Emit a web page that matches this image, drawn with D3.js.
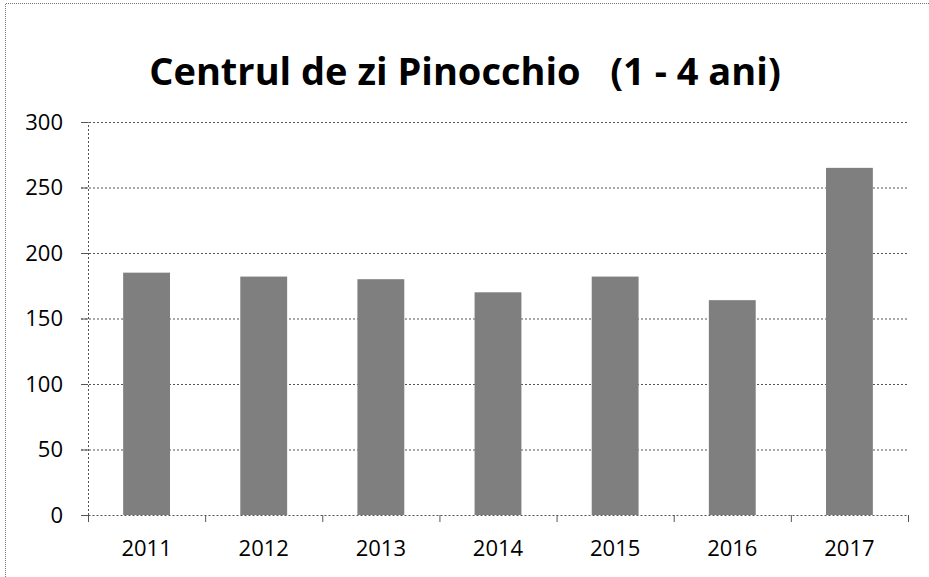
<!DOCTYPE html>
<html>
<head>
<meta charset="utf-8">
<script src="https://cdn.jsdelivr.net/npm/d3@7"></script>
<style>
  html, body { margin: 0; padding: 0; background: #fff; }
</style>
</head>
<body>
<div id="chart"></div>
<script>
const years = ['2011', '2012', '2013', '2014', '2015', '2016', '2017']
const children = [185, 182, 180, 170, 182, 164, 265]
const yTicks = [0, 50, 100, 150, 200, 250, 300]
const title = 'Centrul de zi Pinocchio   (1 - 4 ani)'

const width = 929,
  height = 577,
  margin = { top: 122, right: 21, bottom: 62, left: 88 }

const
  xMax = width - margin.left - margin.right,
  yMax = height - margin.top - margin.bottom,

  scaleX = d3.scaleBand().domain(years).range([0, xMax]).paddingInner(0.6).paddingOuter(0.3),
  scaleY = d3.scaleLinear().domain([0, 300]).range([yMax, 0]),

  svg = d3.select('#chart').append('svg')
    .attr('width', width)
    .attr('height', height)
    .attr('viewBox', [0, 0, width, height])

// frame (only top and left edges show in the scan)
svg.append('path')
  .attr('d', `M5.5,${height} V3.5 H${width}`)
  .attr('fill', 'none')
  .attr('stroke', '#777')
  .attr('stroke-dasharray', '1,1')

svg.append('text')
  .attr('x', 465)
  .attr('y', 85)
  .attr('text-anchor', 'middle')
  .style('white-space', 'pre')
  .attr('font-family', '"Open Sans", sans-serif')
  .attr('font-weight', 'bold')
  .attr('font-size', 38)
  .attr('fill', '#000')
  .text(title)

const chart = svg.append('g')
  .attr('transform', `translate(${margin.left}, ${margin.top})`)

// gridlines
chart.append('g')
  .selectAll('line')
  .data(yTicks.slice(1)).enter().append('line')
  .attr('x1', -7)
  .attr('x2', xMax)
  .attr('y1', d => scaleY(d) + 0.5)
  .attr('y2', d => scaleY(d) + 0.5)
  .attr('stroke', '#555')
  .attr('stroke-dasharray', '2,2')

// bars
chart.append('g')
  .selectAll('rect')
  .data(years).enter().append('rect')
  .attr('x', d => scaleX(d))
  .attr('y', (d, i) => scaleY(children[i]))
  .attr('width', scaleX.bandwidth())
  .attr('height', (d, i) => yMax - scaleY(children[i]))
  .attr('fill', '#7f7f7f')

// y axis
const yAxis = chart.append('g')
  .call(d3.axisLeft(scaleY).tickValues(yTicks).tickSize(7).tickPadding(18))
yAxis.select('.domain').attr('stroke', '#555').attr('stroke-dasharray', '2,2')
yAxis.selectAll('.tick line').attr('stroke', '#555')
yAxis.selectAll('text')
  .attr('font-family', '"Open Sans", sans-serif')
  .attr('font-size', 22)
  .attr('fill', '#000')

// x axis
const step = scaleX.step()
const xAxis = chart.append('g')
  .attr('transform', `translate(0, ${yMax})`)
  .call(d3.axisBottom(scaleX).tickSize(0).tickPadding(25))
xAxis.select('.domain').attr('stroke', '#555').attr('stroke-dasharray', '2,2')
xAxis.selectAll('text')
  .attr('font-family', '"Open Sans", sans-serif')
  .attr('font-size', 22)
  .attr('fill', '#000')
xAxis.selectAll('.sep')
  .data(d3.range(years.length + 1)).enter().append('line')
  .attr('x1', i => i * step + 0.5)
  .attr('x2', i => i * step + 0.5)
  .attr('y1', 0)
  .attr('y2', 7)
  .attr('stroke', '#555')
</script>
</body>
</html>
